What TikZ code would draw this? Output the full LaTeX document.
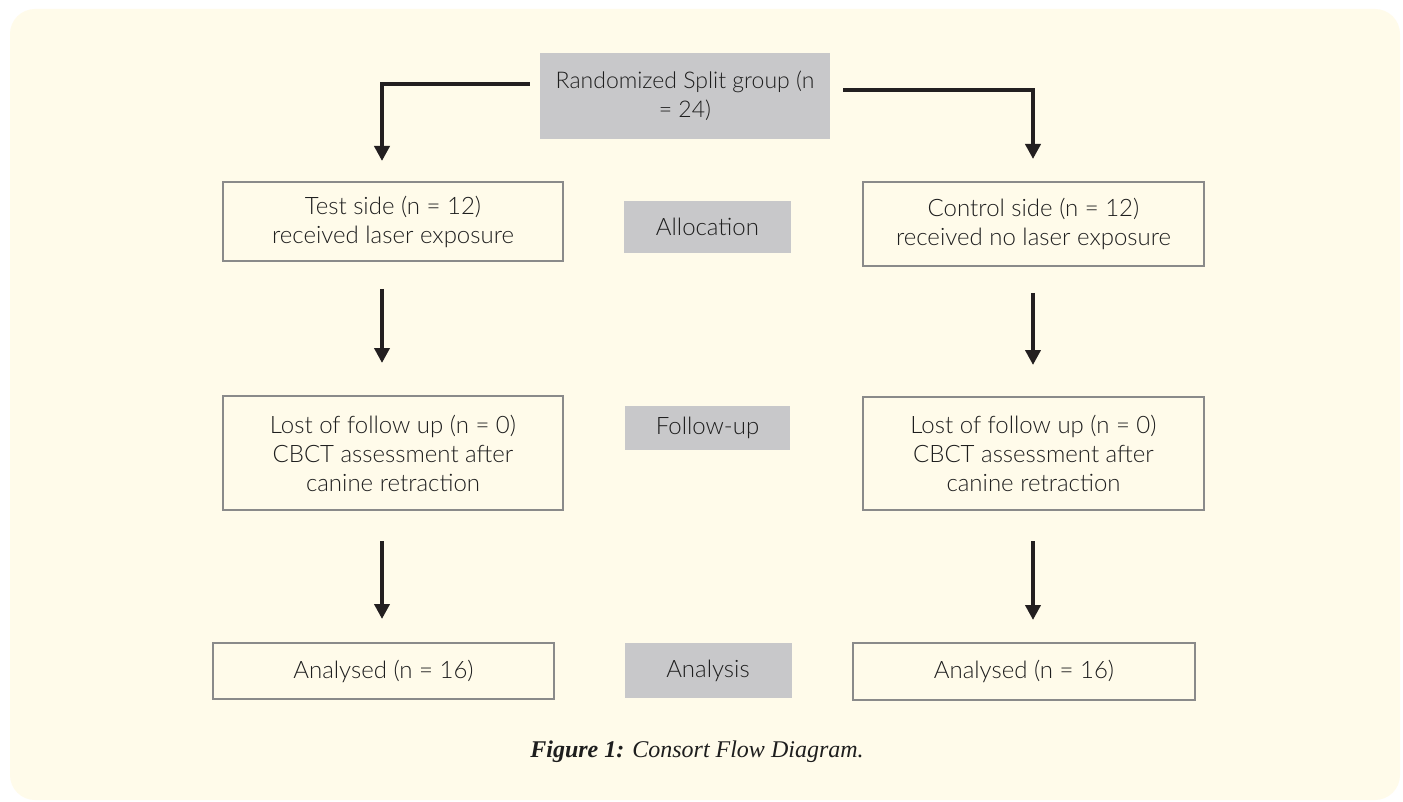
\documentclass[tikz,border=0pt]{standalone}
\usepackage{fontspec}
\setmainfont{Lato}[UprightFont={* Light}]
\newfontfamily\capfont{Liberation Serif}
\usetikzlibrary{arrows.meta,calc}
\definecolor{bgpage}{HTML}{FFFBEA}
\definecolor{grayfill}{HTML}{C8C8CA}
\definecolor{boxline}{HTML}{8A8A8A}
\definecolor{txt}{HTML}{1E1E1E}
\definecolor{arr}{HTML}{231F20}
\tikzset{
  whitebox/.style={draw=boxline, line width=2pt, fill=none, align=center, text=txt,
    font=\fontsize{24}{29}\selectfont, inner sep=0pt},
  graybox/.style={fill=grayfill, draw=none, align=center, text=txt,
    font=\fontsize{24}{29}\selectfont, inner sep=0pt},
  conn/.style={draw=arr, line width=4pt, -{Triangle[width=15pt,length=15pt]}},
}
\begin{document}
\begin{tikzpicture}[x=1pt,y=-1pt]
\useasboundingbox (0,0) rectangle (1403,802);
\fill[white] (0,0) rectangle (1403,802);
\fill[bgpage, rounded corners=25pt] (10,9) rectangle (1400,800);

\node[graybox, minimum width=290pt, minimum height=86pt, font=\fontsize{23}{29}\selectfont] (top) at (685,96) {Randomized Split group (n\\= 24)};

\node[whitebox, minimum width=340pt, minimum height=79pt] (test) at (393,221.5) {Test side (n = 12)\\received laser exposure};
\node[graybox, minimum width=167pt, minimum height=52pt] (alloc) at (707.5,227) {Allocation};
\node[whitebox, minimum width=341pt, minimum height=84pt] (control) at (1033.5,224) {Control side (n = 12)\\received no laser exposure};

\node[whitebox, minimum width=340pt, minimum height=114pt] (lostL) at (393,453) {Lost of follow up (n = 0)\\CBCT assessment after\\canine retraction};
\node[graybox, minimum width=165pt, minimum height=44pt] (follow) at (707.5,428) {Follow-up};
\node[whitebox, minimum width=341pt, minimum height=113pt] (lostR) at (1033.5,453.5) {Lost of follow up (n = 0)\\CBCT assessment after\\canine retraction};

\node[whitebox, minimum width=341pt, minimum height=56pt] (anaL) at (383.5,671) {Analysed (n = 16)};
\node[graybox, minimum width=167pt, minimum height=55pt] (analysis) at (708,670.5) {Analysis};
\node[whitebox, minimum width=342pt, minimum height=57pt] (anaR) at (1024,671.5) {Analysed (n = 16)};

\node[text=txt, font=\capfont\fontsize{24}{26}\selectfont] (cap) at (697,752) {\textbf{\textit{Figure 1:}} \textit{Consort Flow Diagram.}};

% connectors
\draw[conn] ([xshift=-10pt,yshift=12pt]top.west) -| ([xshift=-11pt,yshift=20pt]test.north);
\draw[conn] ([xshift=13pt,yshift=6pt]top.east) -| ([xshift=-0.5pt,yshift=22pt]control.north);

\draw[conn] ([xshift=-11pt,yshift=-27pt]test.south) -- ([xshift=-11pt,yshift=32pt]lostL.north);
\draw[conn] ([xshift=-0.5pt,yshift=-26pt]control.south) -- ([xshift=-0.5pt,yshift=31pt]lostR.north);

\draw[conn] ([xshift=-11pt,yshift=-30pt]lostL.south) -- ([xshift=-1.5pt,yshift=23pt]anaL.north);
\draw[conn] ([xshift=-0.5pt,yshift=-30pt]lostR.south) -- ([xshift=9pt,yshift=22pt]anaR.north);
\end{tikzpicture}
\end{document}
